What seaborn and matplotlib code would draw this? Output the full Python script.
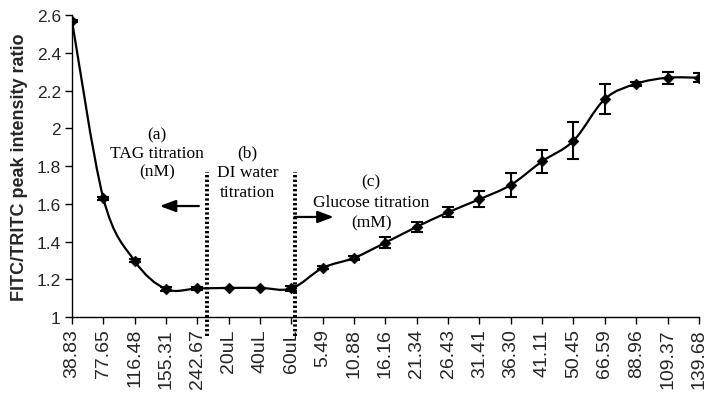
import numpy as np
import matplotlib
matplotlib.use("Agg")
import matplotlib.pyplot as plt
from matplotlib.path import Path
from matplotlib.patches import PathPatch, FancyArrowPatch
import seaborn as sns
import pandas as pd

# ---- data ----
categories = ["38.83", "77.65", "116.48", "155.31", "242.67", "20uL", "40uL", "60uL",
              "5.49", "10.88", "16.16", "21.34", "26.43", "31.41", "36.30", "41.11",
              "50.45", "66.59", "88.96", "109.37", "139.68"]
ratio = [2.57, 1.63, 1.297, 1.148, 1.151, 1.154, 1.154, 1.151,
         1.26, 1.313, 1.394, 1.478, 1.555, 1.624, 1.70, 1.825,
         1.934, 2.155, 2.236, 2.268, 2.268]
ratio_err = [0.005, 0.008, 0.008, 0.012, 0.008, 0.0, 0.0, 0.012,
             0.008, 0.012, 0.028, 0.028, 0.026, 0.043, 0.064, 0.060,
             0.099, 0.081, 0.010, 0.031, 0.023]
y_ticks = [1, 1.2, 1.4, 1.6, 1.8, 2, 2.2, 2.4, 2.6]
y_tick_labels = ["1", "1.2", "1.4", "1.6", "1.8", "2", "2.2", "2.4", "2.6"]

df = pd.DataFrame({"pos": np.arange(len(categories)), "ratio": ratio, "err": ratio_err})

sns.set_theme(style="ticks")
plt.rcParams["font.family"] = ["Liberation Sans", "DejaVu Sans"]

fig = plt.figure(figsize=(7.14, 4.02), dpi=100)
ax = fig.add_axes([0.1008, 0.209, 0.878, 0.751])

# smoothed line (Excel-style Bezier through data points)
x = df["pos"].to_numpy(dtype=float)
y = df["ratio"].to_numpy(dtype=float)
verts = [(x[0], y[0])]
codes = [Path.MOVETO]
n = len(x)
for i in range(n - 1):
    i0 = max(i - 1, 0)
    i3 = min(i + 2, n - 1)
    c1 = (x[i] + (x[i + 1] - x[i0]) / 6.0, y[i] + (y[i + 1] - y[i0]) / 6.0)
    c2 = (x[i + 1] - (x[i3] - x[i]) / 6.0, y[i + 1] - (y[i3] - y[i]) / 6.0)
    verts += [c1, c2, (x[i + 1], y[i + 1])]
    codes += [Path.CURVE4] * 3
ax.add_patch(PathPatch(Path(verts, codes), facecolor="none", edgecolor="black",
                       lw=1.6, zorder=3))

ax.errorbar(df["pos"], df["ratio"], yerr=df["err"], fmt="none", ecolor="black",
            elinewidth=1.5, capsize=4.5, capthick=1.5, zorder=4)
sns.scatterplot(data=df, x="pos", y="ratio", marker="D", s=30, color="black",
                edgecolor="black", ax=ax, zorder=5, legend=False)

ax.set_xlim(0, n - 1)
ax.set_ylim(1, 2.6)
ax.set_xticks(np.arange(n))
ax.set_xticklabels(categories, rotation=90, fontsize=14)
ax.set_yticks(y_ticks)
ax.set_yticklabels(y_tick_labels, fontsize=12.5)
ax.set_xlabel("")
ax.set_ylabel("FITC/TRITC peak intensity ratio", fontsize=13, fontweight="bold", labelpad=6)
ax.tick_params(axis="both", direction="out", length=5, width=1, color="black", pad=3)
for s in ["top", "right"]:
    ax.spines[s].set_visible(False)
for s in ["left", "bottom"]:
    ax.spines[s].set_color("black")
    ax.spines[s].set_linewidth(1)

# dotted separators
for xv in (4.3, 7.1):
    ax.plot([xv, xv], [0.9, 1.77], color="black", lw=2.8, ls=(0, (0.6, 0.6)),
            clip_on=False, zorder=6, solid_capstyle="butt", dash_capstyle="butt")

serif = ["Liberation Serif", "DejaVu Serif"]
tkw = dict(ha="center", va="center", fontsize=12.5, family=serif, color="black")
ax.text(2.72, 1.97, "(a)", **tkw)
ax.text(2.72, 1.87, "TAG titration", **tkw)
ax.text(2.72, 1.77, "(nM)", **tkw)
ax.text(5.6, 1.87, "(b)", **tkw)
ax.text(5.6, 1.77, "DI water", **tkw)
ax.text(5.6, 1.66, "titration", **tkw)
ax.text(9.55, 1.72, "(c)", **tkw)
ax.text(9.55, 1.61, "Glucose titration", **tkw)
ax.text(9.55, 1.50, "(mM)", **tkw)

ax.annotate("", xy=(2.8, 1.588), xytext=(4.05, 1.588),
            arrowprops=dict(arrowstyle="-|>,head_length=0.8,head_width=0.3",
                            color="black", lw=1.6, shrinkA=0, shrinkB=0))
ax.annotate("", xy=(8.35, 1.53), xytext=(7.1, 1.53),
            arrowprops=dict(arrowstyle="-|>,head_length=0.8,head_width=0.3",
                            color="black", lw=1.6, shrinkA=0, shrinkB=0))

fig.savefig("out.png", dpi=100)
